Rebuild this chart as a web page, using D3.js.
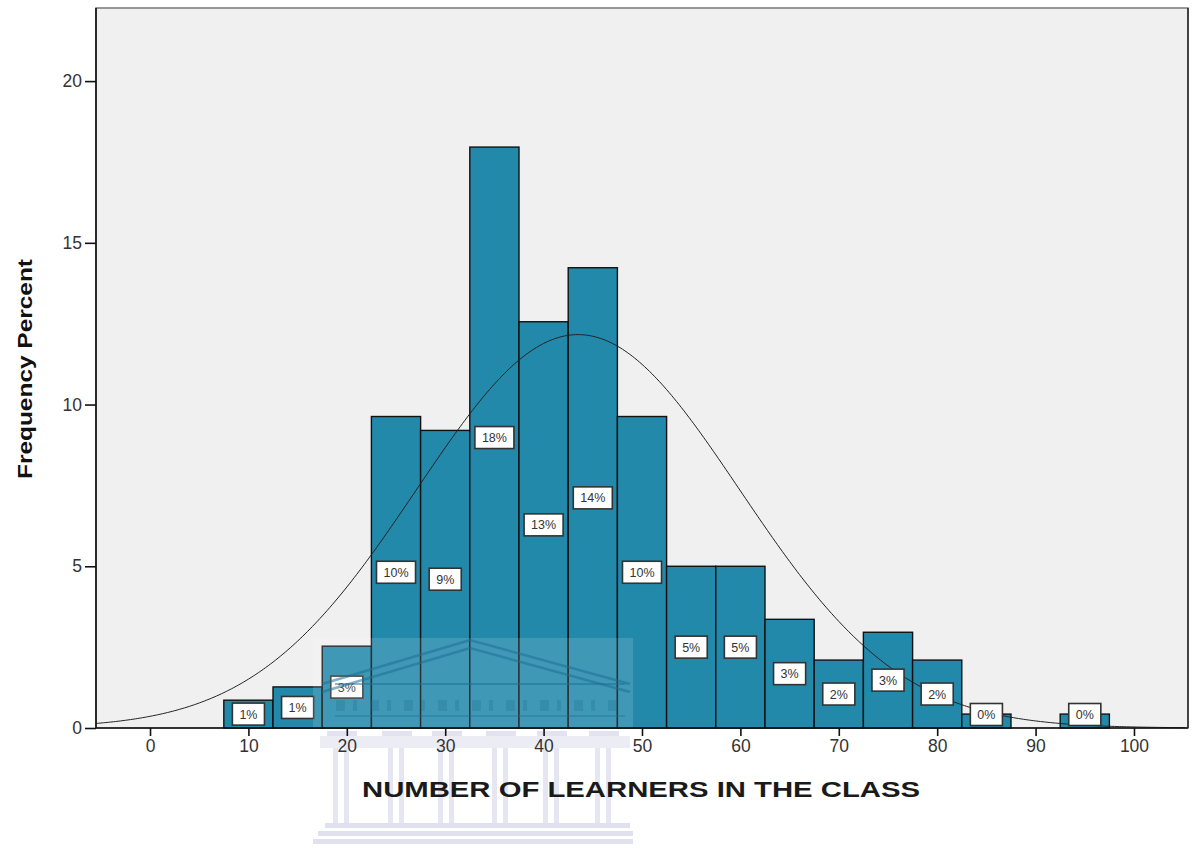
<!DOCTYPE html>
<html><head><meta charset="utf-8">
<script src="https://cdn.jsdelivr.net/npm/d3@7"></script>
<style>body{margin:0;background:#fff}svg{display:block}text{font-family:"Liberation Sans",Arial,sans-serif}</style>
</head><body>
<svg id="c" width="1199" height="849"></svg>
<script>
// ---- data ----
const binStarts = [7.5,12.5,17.5,22.5,27.5,32.5,37.5,42.5,47.5,52.5,57.5,62.5,67.5,72.5,77.5,82.5,87.5,92.5];
const binWidth = 5;
const percents = [0.86,1.27,2.53,9.63,9.2,17.96,12.56,14.23,9.63,5.0,5.0,3.36,2.1,2.96,2.1,0.43,0,0.43];
const barLabels = ["1%","1%","3%","10%","9%","18%","13%","14%","10%","5%","5%","3%","2%","3%","2%","0%","","0%"];
const xTicks = [0,10,20,30,40,50,60,70,80,90,100];
const yTicks = [0,5,10,15,20];
const curveMean = 43.5, curveSD = 16.4, curveTotal = 100; // fitted normal curve params
const xTitle = "NUMBER OF LEARNERS IN THE CLASS";
const yTitle = "Frequency Percent";

const svg = d3.select("#c");
const L=96,R=1188,T=8,B=728;
const x = d3.scaleLinear().domain([-5.49,105.49]).range([L,R]);
const y = d3.scaleLinear().domain([0,22.26]).range([B,T]);

svg.append("rect").attr("x",L).attr("y",T).attr("width",R-L).attr("height",B-T)
  .attr("fill","#f0f0f0").attr("stroke","#777").attr("stroke-width",1.5);

// bars
const bins = binStarts.map((s,i)=>({s,v:percents[i],lab:barLabels[i]})).filter(d=>d.v>0);
svg.append("g").selectAll("rect").data(bins).join("rect")
  .attr("x",d=>x(d.s)).attr("width",d=>x(d.s+binWidth)-x(d.s))
  .attr("y",d=>y(d.v)).attr("height",d=>y(0)-y(d.v))
  .attr("fill","#2389ab").attr("stroke","#111").attr("stroke-width",1.4);

// normal curve
const pts = d3.range(-5.49,105.5,0.25).map(v=>[v, curveTotal*binWidth/(curveSD*Math.sqrt(2*Math.PI))*Math.exp(-0.5*((v-curveMean)/curveSD)**2)]);
svg.append("path").datum(pts).attr("fill","none").attr("stroke","#222").attr("stroke-width",1)
  .attr("d",d3.line().x(d=>x(d[0])).y(d=>y(d[1])).curve(d3.curveBasis));

// labels
const lg = svg.append("g");
bins.forEach(d=>{
  const cx = x(d.s+binWidth/2);
  const cy = Math.min((y(d.v)+y(0))/2, B-13.5);
  const g = lg.append("g").attr("transform",`translate(${cx},${cy})`);
  const t = g.append("text").attr("text-anchor","middle").attr("dy","0.36em")
    .attr("font-size",12.5).attr("fill","#333").text(d.lab);
  const w = t.node().getComputedTextLength()+14;
  g.insert("rect","text").attr("x",-w/2).attr("y",-11).attr("width",w).attr("height",22)
    .attr("fill","#fff").attr("stroke","#333").attr("stroke-width",1.6);
});

// watermark (faint building logo)
const wm = svg.append("g").attr("pointer-events","none");
wm.append("rect").attr("x",313).attr("y",638).attr("width",320).attr("height",B-638)
  .attr("fill","#ffffff").attr("opacity",0.13);
const ped = (dy)=>`M322,${684+dy} L470,${640+dy} L630,${684+dy}`;
[0,8].forEach(dy=>wm.append("path").attr("d",ped(dy)).attr("fill","none")
  .attr("stroke","#1d6f96").attr("stroke-width",2.5).attr("opacity",0.55));
wm.append("line").attr("x1",335).attr("x2",625).attr("y1",684).attr("y2",684)
  .attr("stroke","#1d6f96").attr("stroke-width",2).attr("opacity",0.5);
d3.range(336,620,17).forEach((px,i)=>wm.append("rect").attr("x",px).attr("y",700).attr("width",i%2?4:9).attr("height",11)
  .attr("fill","#1d6f96").attr("opacity",0.3));
wm.append("line").attr("x1",335).attr("x2",625).attr("y1",716).attr("y2",716)
  .attr("stroke","#1d6f96").attr("stroke-width",2).attr("opacity",0.35);
const colX = [333,388,438,492,543,595];
colX.forEach(cx=>{
  wm.append("rect").attr("x",cx-6).attr("y",731).attr("width",30).attr("height",5).attr("fill","#e2e2f0");
  wm.append("rect").attr("x",cx).attr("y",737).attr("width",5).attr("height",88).attr("fill","#e6e6f2");
  wm.append("rect").attr("x",cx+11).attr("y",737).attr("width",5).attr("height",88).attr("fill","#e6e6f2");
});
wm.append("rect").attr("x",320).attr("y",736).attr("width",310).attr("height",12).attr("fill","#ececf5");
[[325,823,305],[318,831,315],[313,839,320]].forEach(([sx,sy,w])=>
  wm.append("rect").attr("x",sx).attr("y",sy).attr("width",w).attr("height",5).attr("fill","#e0e0ee"));

// axes
svg.append("line").attr("x1",L).attr("x2",L).attr("y1",T).attr("y2",B).attr("stroke","#111").attr("stroke-width",1.6);
svg.append("line").attr("x1",L).attr("x2",R).attr("y1",B).attr("y2",B).attr("stroke","#111").attr("stroke-width",1.6);
svg.append("line").attr("x1",R).attr("x2",R).attr("y1",T).attr("y2",B).attr("stroke","#222").attr("stroke-width",1.4);

const xa = svg.append("g").attr("transform",`translate(0,${B})`)
  .call(d3.axisBottom(x).tickValues(xTicks).tickSize(8).tickPadding(4).tickFormat(d3.format("d")));
xa.select(".domain").remove();
xa.selectAll("line").attr("stroke","#111").attr("stroke-width",1.6);
xa.selectAll("text").attr("font-size",17.5).attr("fill","#333").attr("font-family","Liberation Sans, Arial, sans-serif");

const ya = svg.append("g").attr("transform",`translate(${L},0)`)
  .call(d3.axisLeft(y).tickValues(yTicks).tickSize(11).tickPadding(3).tickFormat(d3.format("d")));
ya.select(".domain").remove();
ya.selectAll("line").attr("stroke","#111").attr("stroke-width",1.6);
ya.selectAll("text").attr("font-size",17.5).attr("fill","#333").attr("font-family","Liberation Sans, Arial, sans-serif");

svg.append("text").attr("x",641).attr("y",797).attr("text-anchor","middle")
  .attr("font-size",22).attr("font-weight","bold").attr("fill","#1a1a1a")
  .attr("textLength",558).attr("lengthAdjust","spacingAndGlyphs").text(xTitle);
svg.append("text").attr("transform","translate(32,369) rotate(-90)").attr("text-anchor","middle")
  .attr("font-size",21).attr("font-weight","bold").attr("fill","#111")
  .attr("textLength",220).attr("lengthAdjust","spacingAndGlyphs").text(yTitle);
</script>
</body></html>
